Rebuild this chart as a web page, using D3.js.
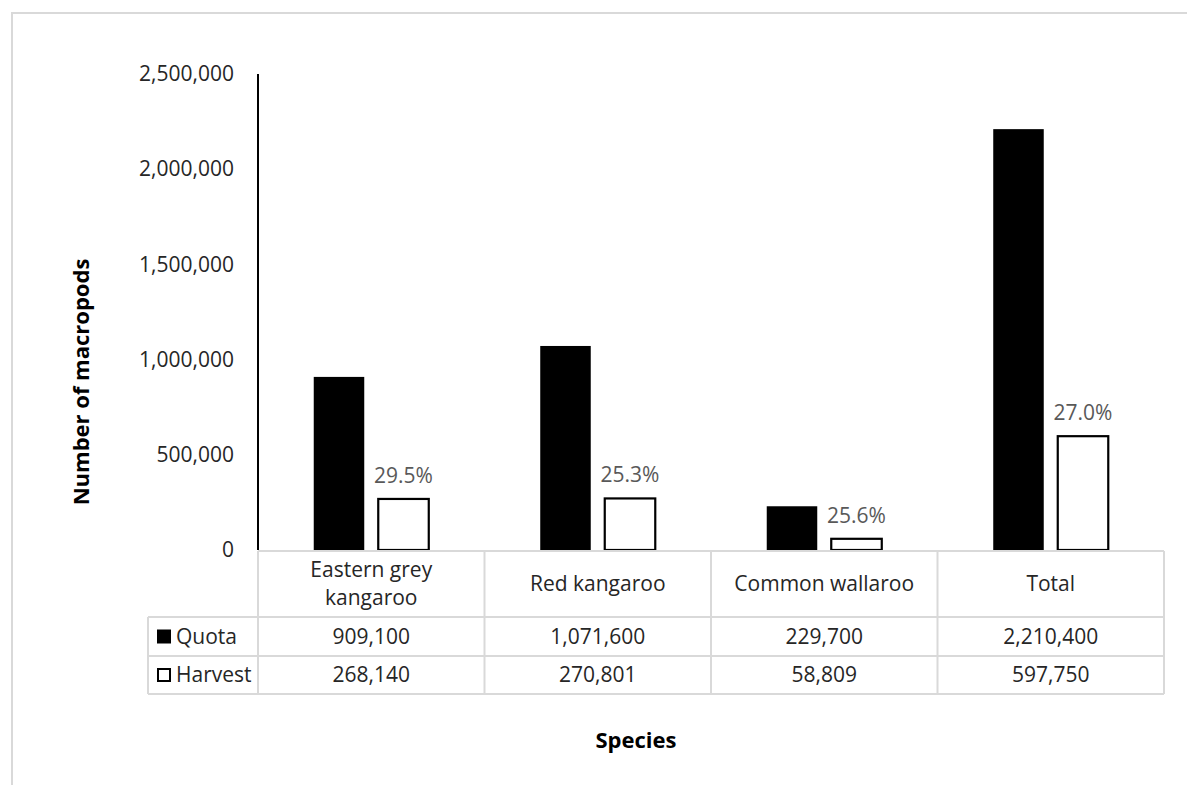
<!DOCTYPE html>
<html>
<head>
<meta charset="utf-8">
<script src="https://cdn.jsdelivr.net/npm/d3@7"></script>
<style>
  html, body { margin: 0; padding: 0; background: #fff; }
  svg { display: block; font-family: "Open Sans", sans-serif; }
</style>
</head>
<body>
<svg id="chart" width="1187" height="785"></svg>
<script>
// Kangaroo quota versus commercial harvest by species
const species = [["Eastern grey", "kangaroo"], ["Red kangaroo"], ["Common wallaroo"], ["Total"]];
const seriesNames = ["Quota", "Harvest"];
const quota = [909100, 1071600, 229700, 2210400];
const harvest = [268140, 270801, 58809, 597750];
const yTicks = [0, 500000, 1000000, 1500000, 2000000, 2500000];

const svg = d3.select("#chart");
const W = 1187, H = 785;

const gridColor = "#d9d9d9";
const textColor = "#262626";
const fontSize = 21;

// plot frame
const plotLeft = 258, plotRight = 1164, plotTop = 74, plotBottom = 550;
const tableLeft = 148;
const headerBottom = 617, row1Bottom = 656, row2Bottom = 694;

// outer chart-area border
svg.append("rect")
  .attr("x", 12).attr("y", 13)
  .attr("width", W + 20).attr("height", H + 20)
  .attr("fill", "none").attr("stroke", gridColor).attr("stroke-width", 2);

const keys = species.map((d, i) => i);
const x0 = d3.scaleBand().domain(keys).range([plotLeft, plotRight]).padding(0);
const x1 = d3.scaleBand().domain(seriesNames).range([0, x0.bandwidth()])
  .paddingInner(0.217).paddingOuter(0.864);
const y = d3.scaleLinear().domain([0, 2500000]).range([plotBottom, plotTop]);

// y axis
const yAxis = d3.axisLeft(y).tickValues(yTicks).tickSize(0).tickPadding(24)
  .tickFormat(d3.format(","));
const gy = svg.append("g").attr("transform", `translate(${plotLeft},0)`).call(yAxis);
gy.select(".domain").remove();
gy.selectAll("text")
  .attr("font-size", fontSize)
  .attr("font-family", "Open Sans, sans-serif")
  .attr("fill", textColor);

// bars
const rows = keys.map(i => ({ i, values: [{ key: "Quota", v: quota[i] }, { key: "Harvest", v: harvest[i] }] }));
const groups = svg.append("g").selectAll("g").data(rows).join("g")
  .attr("transform", d => `translate(${x0(d.i)},0)`);

groups.selectAll("rect").data(d => d.values).join("rect")
  .attr("x", d => x1(d.key))
  .attr("y", d => y(d.v))
  .attr("width", x1.bandwidth())
  .attr("height", d => y(0) - y(d.v))
  .attr("fill", d => d.key === "Quota" ? "#000" : "#fff")
  .attr("stroke", d => d.key === "Quota" ? "none" : "#000")
  .attr("stroke-width", 2.2);

// harvest as share of quota
const pct = d3.format(".1%");
groups.append("text")
  .attr("x", x1("Harvest") + x1.bandwidth() / 2)
  .attr("y", d => y(harvest[d.i]) - 16)
  .attr("text-anchor", "middle")
  .attr("font-size", fontSize)
  .attr("fill", "#595959")
  .text(d => pct(harvest[d.i] / quota[d.i]));

// y axis line
svg.append("line")
  .attr("x1", plotLeft).attr("x2", plotLeft)
  .attr("y1", plotTop).attr("y2", plotBottom)
  .attr("stroke", "#000").attr("stroke-width", 2);

// data table under the plot
const tbl = svg.append("g").attr("stroke", gridColor).attr("stroke-width", 2).attr("fill", "none");
tbl.append("line").attr("x1", plotLeft).attr("x2", plotRight).attr("y1", plotBottom + 1).attr("y2", plotBottom + 1);
tbl.append("line").attr("x1", tableLeft).attr("x2", plotRight).attr("y1", headerBottom).attr("y2", headerBottom);
tbl.append("line").attr("x1", tableLeft).attr("x2", plotRight).attr("y1", row1Bottom).attr("y2", row1Bottom);
tbl.append("line").attr("x1", tableLeft).attr("x2", plotRight).attr("y1", row2Bottom).attr("y2", row2Bottom);
tbl.append("line").attr("x1", tableLeft).attr("x2", tableLeft).attr("y1", headerBottom).attr("y2", row2Bottom);
keys.concat([keys.length]).forEach(i => {
  const xx = i < keys.length ? x0(i) : plotRight;
  tbl.append("line").attr("x1", xx).attr("x2", xx)
    .attr("y1", plotBottom + 1).attr("y2", row2Bottom);
});

// category labels
const headerMid = (plotBottom + headerBottom) / 2;
const lineH = 28;
species.forEach((lines, i) => {
  const cx = x0(i) + x0.bandwidth() / 2;
  const t = svg.append("text")
    .attr("x", cx).attr("text-anchor", "middle")
    .attr("font-size", fontSize).attr("fill", textColor);
  lines.forEach((ln, j) => {
    t.append("tspan")
      .attr("x", cx)
      .attr("y", headerMid + (j - (lines.length - 1) / 2) * lineH)
      .attr("dy", "0.35em")
      .text(ln);
  });
});

// value rows with legend keys
const rowMids = [(headerBottom + row1Bottom) / 2, (row1Bottom + row2Bottom) / 2];
const rowData = [quota, harvest];
const fmt = d3.format(",");
seriesNames.forEach((name, r) => {
  const cy = rowMids[r];
  svg.append("rect")
    .attr("x", r === 0 ? 157 : 158).attr("y", r === 0 ? cy - 7 : cy - 6)
    .attr("width", r === 0 ? 14 : 12).attr("height", r === 0 ? 14 : 12)
    .attr("fill", r === 0 ? "#000" : "#fff")
    .attr("stroke", r === 0 ? "none" : "#000")
    .attr("stroke-width", 2);
  svg.append("text")
    .attr("x", 176).attr("y", cy).attr("dy", "0.35em")
    .attr("font-size", fontSize).attr("fill", textColor)
    .text(name);
  rowData[r].forEach((v, i) => {
    svg.append("text")
      .attr("x", x0(i) + x0.bandwidth() / 2).attr("y", cy).attr("dy", "0.35em")
      .attr("text-anchor", "middle")
      .attr("font-size", fontSize).attr("fill", textColor)
      .text(fmt(v));
  });
});

// axis titles
svg.append("text")
  .attr("transform", `translate(89,${(plotTop + plotBottom) / 2 + 70}) rotate(-90)`)
  .attr("text-anchor", "middle")
  .attr("font-size", 22).attr("font-weight", "bold").attr("fill", "#000")
  .text("Number of macropods");

svg.append("text")
  .attr("x", 636).attr("y", 748)
  .attr("text-anchor", "middle")
  .attr("font-size", 22).attr("font-weight", "bold").attr("fill", "#000")
  .text("Species");
</script>
</body>
</html>
